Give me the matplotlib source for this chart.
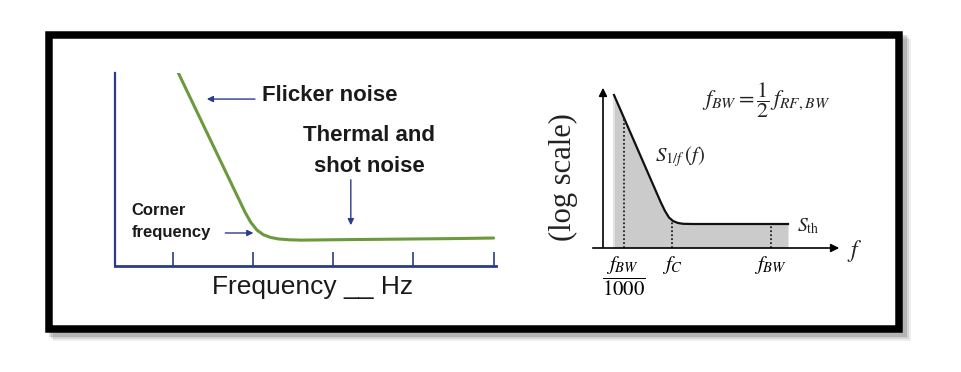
import numpy as np
import matplotlib.pyplot as plt
from matplotlib.patches import Rectangle

plt.rcParams['mathtext.fontset'] = 'stix'

# left panel: noise spectrum (arbitrary units)
freq_l = [1.07, 1.5, 1.9, 1.97, 2.05, 2.13, 2.22, 2.32, 2.45, 2.6, 3.0, 3.5, 4.0, 4.5, 5.0]
noise_l = [10.0, 6.27, 2.80, 2.28, 1.86, 1.62, 1.48, 1.40, 1.36, 1.34, 1.36, 1.38, 1.40, 1.42, 1.45]
ticks_l = [1, 2, 3, 4, 5]

# right panel: PSD sketch (arbitrary units)
freq_r = [1.1, 3.0, 5.0, 5.8, 6.2, 6.6, 7.0, 7.5, 8.0, 9.0, 14, 18.5]
psd_r = [15.3, 10.94, 6.35, 4.52, 3.7, 3.05, 2.7, 2.5, 2.42, 2.4, 2.4, 2.4]
marks_r = [2.1, 6.9, 16.8]
mark_lbls = [r'$\dfrac{f_{BW}}{1000}$', r'$f_C$', r'$f_{BW}$']

navy = '#2a3b8c'
green = '#6b9a3c'

fig = plt.figure(figsize=(9.62, 3.72), dpi=100)

# frame with soft shadow to the lower right
bg = fig.add_axes([0, 0, 1, 1])
bg.set_xlim(0, 962)
bg.set_ylim(372, 0)
bg.axis('off')
for k, a in zip([8, 6, 4], [0.07, 0.10, 0.15]):
    bg.add_patch(Rectangle((45 + k, 31 + k), 858, 302, fc='black', ec='none', alpha=a))
bg.add_patch(Rectangle((49, 35), 850.5, 294, fc='white', lw=5.4, ec='black'))

# ---- left panel
ax = fig.add_axes([115 / 962, (372 - 266) / 372, (496 - 115) / 962, (266 - 73) / 372])
ax.plot(freq_l, noise_l, color=green, lw=2.2, solid_capstyle='round')
ax.set_xlim(0.28, 5.03)
ax.set_ylim(0, 10)
for s in ['top', 'right']:
    ax.spines[s].set_visible(False)
ax.spines['left'].set_color(navy)
ax.spines['left'].set_linewidth(1.6)
ax.spines['bottom'].set_color(navy)
ax.spines['bottom'].set_linewidth(2.0)
ax.set_xticks(ticks_l)
ax.set_xticklabels([])
ax.set_yticks([])
ax.tick_params(axis='x', direction='in', length=10, width=1.2, color=navy)
ax.patch.set_alpha(0)

sans = 'Liberation Sans'
arr = dict(arrowstyle='-|>', color=navy, lw=1.0, mutation_scale=9)
ax.text(2.11, 8.81, 'Flicker noise', family=sans, weight='bold', fontsize=16,
        color='#1a1a1a', ha='left', va='center')
ax.annotate('', xy=(1.39, 8.65), xytext=(2.06, 8.65), arrowprops=arr)
ax.text(3.45, 5.96, 'Thermal and\nshot noise', family=sans, weight='bold', fontsize=16,
        color='#1a1a1a', ha='center', va='center', linespacing=1.6)
ax.annotate('', xy=(3.22, 1.97), xytext=(3.22, 4.61), arrowprops=arr)
ax.text(0.49, 2.31, 'Corner\nfrequency', family=sans, weight='bold', fontsize=12,
        color='#1a1a1a', ha='left', va='center', linespacing=1.65)
ax.annotate('', xy=(2.04, 1.71), xytext=(1.62, 1.71), arrowprops=arr)
ax.text(2.74, -1.09, 'Frequency __ Hz', family=sans, fontsize=19,
        color='#1a1a1a', ha='center', va='center', clip_on=False)

# ---- right panel
ar = fig.add_axes([545 / 962, (372 - 300) / 372, 325 / 962, 225 / 372])
ar.set_xlim(-5.8, 26.7)
ar.set_ylim(-5.2, 17.3)
ar.axis('off')
ar.fill_between(freq_r, psd_r, 0, color='#cbcbcb', lw=0)
ar.plot([freq_r[0], freq_r[0]], [0, psd_r[0]], color='#e2e2e2', lw=1.5)
ar.plot(freq_r, psd_r, color='#111111', lw=1.6)
ar.annotate('', xy=(0, 16.3), xytext=(0, -0.2),
            arrowprops=dict(arrowstyle='-|>', color='black', lw=1.2, mutation_scale=12))
ar.annotate('', xy=(23.9, 0), xytext=(-1.3, 0),
            arrowprops=dict(arrowstyle='-|>', color='black', lw=1.2, mutation_scale=12))
for xm, lb in zip(marks_r, mark_lbls):
    top = np.interp(xm, freq_r, psd_r)
    ar.plot([xm, xm], [0, top], color='#222222', lw=1.3, ls=(0, (1, 1.2)))
    yl = -2.8 if 'dfrac' in lb else -1.7
    ar.text(xm, yl, lb, fontsize=15, ha='center', va='center')

ar.text(-4.0, 7.1, '(log scale)', family='Liberation Serif', fontsize=22,
        rotation=90, ha='center', va='center', color='#222222')
ar.text(16.3, 14.8, r'$f_{BW} = \dfrac{1}{2}\, f_{RF,BW}$', fontsize=16,
        ha='center', va='center', color='#222222')
ar.text(5.2, 9.1, r'$S_{1/f}\,(f)$', fontsize=15, ha='left', va='center', color='#222222')
ar.text(19.4, 2.2, r'$S_{\rm th}$', fontsize=14, ha='left', va='center', color='#222222')
ar.text(24.4, -0.3, r'$f$', fontsize=17, ha='left', va='center', color='#222222')

fig.savefig('out.png', dpi=100)
